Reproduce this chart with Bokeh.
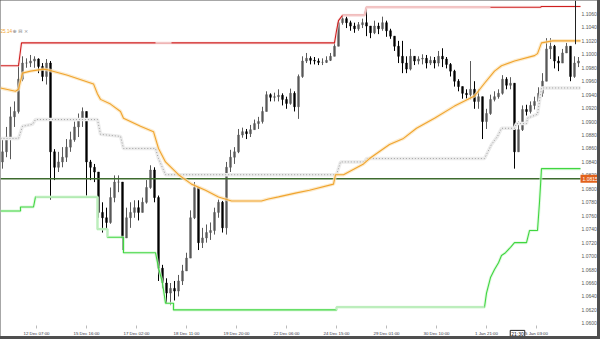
from bokeh.plotting import figure
from bokeh.models import Range1d, FixedTicker, Label, PrintfTickFormatter, ColumnDataSource
from bokeh.layouts import column
from bokeh.embed import file_html
from bokeh.resources import INLINE

# ---------------- data ----------------
first_open = 1.0840
close = [1.0855, 1.0877, 1.0907, 1.0915, 1.0963, 1.0987, 1.0987, 1.0990, 1.0993, 1.0982,
         1.0967, 1.0987, 1.0855, 1.0832, 1.0840, 1.0847, 1.0862, 1.0873, 1.0892, 1.0903,
         1.0915, 1.0840, 1.0832, 1.0825, 1.0765, 1.0757, 1.0750, 1.0787, 1.0810, 1.0810,
         1.0727, 1.0757, 1.0765, 1.0772, 1.0765, 1.0780, 1.0802, 1.0828, 1.0787, 1.0682,
         1.0660, 1.0645, 1.0652, 1.0648, 1.0663, 1.0678, 1.0697, 1.0757, 1.0802, 1.0720,
         1.0727, 1.0735, 1.0738, 1.0765, 1.0780, 1.0742, 1.0832, 1.0847, 1.0855, 1.0880,
         1.0885, 1.0882, 1.0888, 1.0897, 1.0900, 1.0915, 1.0940, 1.0936, 1.0937, 1.0939,
         1.0933, 1.0927, 1.0942, 1.0922, 1.0967, 1.0990, 1.0994, 1.0991, 1.0990, 1.0988,
         1.0988, 1.0991, 1.0997, 1.1012, 1.1047, 1.1053, 1.1047, 1.1042, 1.1038, 1.1044,
         1.1047, 1.1042, 1.1032, 1.1042, 1.1038, 1.1047, 1.1035, 1.1027, 1.1012, 1.0997,
         1.0987, 1.0978, 1.0997, 1.0990, 1.0993, 1.0994, 1.0987, 1.0991, 1.0987, 1.0997,
         1.0993, 1.0985, 1.0975, 1.0960, 1.0952, 1.0942, 1.0940, 1.0948, 1.0930, 1.0937,
         1.0900, 1.0912, 1.0933, 1.0937, 1.0942, 1.0963, 1.0954, 1.0957, 1.0855, 1.0888,
         1.0918, 1.0915, 1.0924, 1.0930, 1.0942, 1.0960, 1.1008, 1.1012, 1.0990, 1.0987,
         1.1002, 1.1012, 1.0967, 1.0987, 1.0990]
high = [1.0874, 1.0892, 1.0922, 1.0930, 1.0987, 1.0997, 1.0994, 1.0999, 1.0997, 1.0994,
        1.0987, 1.0993, 1.0990, 1.0859, 1.0855, 1.0862, 1.0874, 1.0885, 1.0900, 1.0912,
        1.0921, 1.0915, 1.0843, 1.0837, 1.0825, 1.0780, 1.0772, 1.0802, 1.0820, 1.0820,
        1.0810, 1.0772, 1.0780, 1.0783, 1.0783, 1.0787, 1.0813, 1.0835, 1.0832, 1.0790,
        1.0687, 1.0667, 1.0660, 1.0663, 1.0672, 1.0687, 1.0705, 1.0768, 1.0810, 1.0802,
        1.0742, 1.0747, 1.0750, 1.0772, 1.0784, 1.0782, 1.0840, 1.0858, 1.0862, 1.0889,
        1.0891, 1.0889, 1.0895, 1.0903, 1.0907, 1.0922, 1.0945, 1.0942, 1.0943, 1.0948,
        1.0942, 1.0937, 1.0949, 1.0945, 1.0970, 1.0997, 1.1002, 1.0997, 1.0996, 1.0994,
        1.0994, 1.0997, 1.1002, 1.1020, 1.1050, 1.1057, 1.1056, 1.1050, 1.1047, 1.1048,
        1.1053, 1.1069, 1.1042, 1.1050, 1.1047, 1.1056, 1.1050, 1.1038, 1.1027, 1.1020,
        1.1020, 1.0997, 1.1008, 1.0997, 1.0997, 1.1000, 1.0999, 1.0997, 1.0996, 1.1005,
        1.1009, 1.0996, 1.0987, 1.0977, 1.0963, 1.0952, 1.0948, 1.0990, 1.0960, 1.0948,
        1.0937, 1.0919, 1.0940, 1.0945, 1.0948, 1.0969, 1.0966, 1.0966, 1.0957, 1.0900,
        1.0924, 1.0925, 1.0930, 1.0937, 1.0951, 1.0972, 1.1024, 1.1024, 1.1014, 1.0997,
        1.1008, 1.1017, 1.1012, 1.0997, 1.0996]
low = [1.0830, 1.0847, 1.0844, 1.0892, 1.0912, 1.0960, 1.0980, 1.0981, 1.0980, 1.0972,
       1.0960, 1.0955, 1.0784, 1.0813, 1.0825, 1.0832, 1.0840, 1.0855, 1.0870, 1.0877,
       1.0892, 1.0790, 1.0813, 1.0810, 1.0757, 1.0735, 1.0739, 1.0748, 1.0780, 1.0795,
       1.0709, 1.0727, 1.0742, 1.0757, 1.0753, 1.0765, 1.0778, 1.0800, 1.0780, 1.0663,
       1.0652, 1.0630, 1.0627, 1.0634, 1.0640, 1.0657, 1.0678, 1.0697, 1.0755, 1.0709,
       1.0712, 1.0720, 1.0724, 1.0732, 1.0757, 1.0735, 1.0732, 1.0825, 1.0837, 1.0853,
       1.0876, 1.0874, 1.0877, 1.0888, 1.0889, 1.0897, 1.0915, 1.0930, 1.0930, 1.0930,
       1.0924, 1.0919, 1.0925, 1.0915, 1.0904, 1.0965, 1.0987, 1.0985, 1.0985, 1.0984,
       1.0984, 1.0987, 1.0990, 1.0997, 1.1012, 1.1044, 1.1039, 1.1035, 1.1032, 1.1035,
       1.1039, 1.1027, 1.1024, 1.1030, 1.1030, 1.1035, 1.1026, 1.1023, 1.1005, 1.0987,
       1.0972, 1.0972, 1.0976, 1.0984, 1.0985, 1.0985, 1.0979, 1.0984, 1.0979, 1.0982,
       1.0981, 1.0979, 1.0967, 1.0952, 1.0945, 1.0934, 1.0934, 1.0933, 1.0919, 1.0919,
       1.0874, 1.0889, 1.0910, 1.0930, 1.0934, 1.0940, 1.0948, 1.0948, 1.0830, 1.0855,
       1.0886, 1.0909, 1.0912, 1.0918, 1.0930, 1.0937, 1.0960, 1.0993, 1.0979, 1.0975,
       1.0987, 1.1002, 1.0960, 1.0965, 1.0981]

# upper channel (red)
upper_x = [-0.5, 4, 4.75, 38.25, 42.25, 83, 83.5, 84, 85, 90.5, 91, 122, 134.5, 134.75, 144.5]
upper_y = [1.0983, 1.0983, 1.1017, 1.1017, 1.1017, 1.1017, 1.1035, 1.1050, 1.1058, 1.1058,
           1.1070, 1.1070, 1.1070, 1.1071, 1.1071]
upper_faded = [(38.25, 42.25), (85, 122)]

# lower channel (green)
lower_x = [-0.5, 4.5, 4.5, 7.75, 8.25, 23.75, 23.75, 26.25, 26.25, 30.25, 30.25, 38.25, 39,
           40, 40.75, 42.75, 42.75, 83.5, 83.5, 120.5, 121, 122, 123, 124, 124.75, 125.75,
           127, 128, 131, 131.5, 131.75, 133.75, 134.25, 134.75, 144.5]
lower_y = [1.0767, 1.0767, 1.0773, 1.0773, 1.0788, 1.0788, 1.0740, 1.0740, 1.0728, 1.0728,
           1.0705, 1.0705, 1.0683, 1.0660, 1.0630, 1.0630, 1.0620, 1.0620, 1.0624, 1.0624,
           1.0645, 1.0668, 1.0680, 1.0690, 1.0701, 1.0705, 1.0713, 1.0720, 1.0720, 1.0732,
           1.0738, 1.0738, 1.0780, 1.0830, 1.0830]
lower_faded = [(8.25, 26.25), (83.5, 120.5)]

# middle line (grey dotted)
mid_x = [-0.5, 4, 5, 7.5, 8.25, 23.75, 24.5, 29.5, 30.25, 38.25, 39, 40.75, 83.5, 84.5, 90.5,
         91, 120.5, 122.25, 123.75, 124.75, 128, 128.5, 131, 131.25, 133.75, 134.75, 144.5]
mid_y = [1.0875, 1.0875, 1.0893, 1.0896, 1.0903, 1.0903, 1.0881, 1.0878, 1.0860, 1.0860,
         1.0845, 1.0821, 1.0821, 1.0840, 1.0840, 1.0845, 1.0845, 1.0866, 1.0878, 1.0890,
         1.0890, 1.0897, 1.0897, 1.0905, 1.0911, 1.0950, 1.0950]

# moving average (orange)
ma_x = [-0.5, 3.25, 4, 5, 7, 10.25, 11.25, 16.25, 22.75, 23.75, 24.5, 27, 29.5, 30.25, 34.5,
        37.75, 39, 40.75, 44, 47.25, 50.75, 54, 57.25, 64.75, 66.5, 69, 73.5, 76.75, 82.75,
        83.25, 85.25, 90.25, 91.75, 96.75, 100.25, 103.5, 108, 113, 118, 120.5, 123, 124.75,
        128, 133, 133.75, 134.75, 137.5, 144.5]
ma_y = [1.0950, 1.0945, 1.0948, 1.0972, 1.0975, 1.0978, 1.0977, 1.0969, 1.0956, 1.0941,
        1.0933, 1.0926, 1.0915, 1.0905, 1.0893, 1.0885, 1.0860, 1.0840, 1.0821, 1.0807,
        1.0798, 1.0788, 1.0782, 1.0782, 1.0785, 1.0788, 1.0794, 1.0798, 1.0807, 1.0821,
        1.0821, 1.0837, 1.0845, 1.0866, 1.0875, 1.0890, 1.0905, 1.0923, 1.0938, 1.0957,
        1.0975, 1.0983, 1.0990, 1.0998, 1.1001, 1.1017, 1.1020, 1.1020]

level_price = 1.0815
last_bar_edge = 144.5
cursor_bar = 143.25
cursor_top = 1.1080
cursor_bottom = 1.1015
cursor_time_bar = 128.75
cursor_time_label = "21:30"
legend_value = "25.14"

y_ticks = [round(1.0600 + 0.0020 * k, 4) for k in range(24)]
x_tick_pos = [8.5, 21, 33.5, 46, 58.5, 71, 83.5, 96, 108.5, 121, 133.5]
x_tick_labels = ["12 Dec 07:00", "15 Dec 16:00", "17 Dec 02:00", "18 Dec 11:00",
                 "19 Dec 20:00", "22 Dec 06:00", "24 Dec 15:00", "29 Dec 01:00",
                 "30 Dec 10:00", "1 Jan 21:00", "5 Jan 03:00"]
time_axis_price = 1.0597

# ---------------- figure ----------------
FONT = "Liberation Sans"
p = figure(frame_width=597, frame_height=336,
           x_range=Range1d(-0.5, 148.75), y_range=Range1d(1.0576, 1.1080),
           output_backend="svg", toolbar_location=None, y_axis_location="right",
           min_border=0, background_fill_color="white", border_fill_color="white",
           outline_line_color=None)
p.grid.visible = False

n = len(close)
opens = [first_open] + close[:-1]
xs = list(range(n))
up = [c >= o for o, c in zip(opens, close)]
src = ColumnDataSource(dict(
    x=xs, high=high, low=low,
    top=[max(o, c) for o, c in zip(opens, close)],
    bottom=[min(o, c) for o, c in zip(opens, close)],
    color=["#5a5a5a" if u else "#000000" for u in up]))
p.segment("x", "high", "x", "low", source=src, line_color="color", line_width=1)
p.vbar(x="x", width=0.45, top="top", bottom="bottom", source=src,
       fill_color="color", line_color="color", line_width=0.5)


def sub(xv, yv, a, b):
    pts = [(x, y) for x, y in zip(xv, yv) if a <= x <= b]
    return [q[0] for q in pts], [q[1] for q in pts]


# level line
p.line([-0.5, last_bar_edge], [level_price, level_price], line_color="#3d6b2e", line_width=1.4)

# grey middle line
p.line(mid_x, mid_y, line_color="#ececec", line_width=3.5)
p.line(mid_x, mid_y, line_color="#a0a0a0", line_width=1, line_dash="1 2")

# orange MA
p.line(ma_x, ma_y, line_color="#fbe2b8", line_width=3.5, line_alpha=0.7)
p.line(ma_x, ma_y, line_color="#f0a42e", line_width=1.1)

# red upper
p.line(upper_x, upper_y, line_color="#f8dada", line_width=3, line_alpha=0.6)
p.line(upper_x, upper_y, line_color="#cf1e1e", line_width=1.1)
for a, b in upper_faded:
    fx, fy = sub(upper_x, upper_y, a, b)
    p.line(fx, fy, line_color="#f2c6c6", line_width=1.8)

# green lower
p.line(lower_x, lower_y, line_color="#d3f6d3", line_width=3, line_alpha=0.7)
p.line(lower_x, lower_y, line_color="#40d640", line_width=1.1)
for a, b in lower_faded:
    fx, fy = sub(lower_x, lower_y, a, b)
    p.line(fx, fy, line_color="#bdedbd", line_width=1.8)

# cursor line
p.segment([cursor_bar], [cursor_top], [cursor_bar], [cursor_bottom], line_color="#222222", line_width=1)

# axes (drawn inside the frame)
p.yaxis.fixed_location = last_bar_edge
p.yaxis.ticker = FixedTicker(ticks=y_ticks)
p.yaxis.formatter = PrintfTickFormatter(format="%.4f")
p.yaxis.major_label_text_font = FONT
p.yaxis.major_label_text_font_size = "5px"
p.yaxis.major_label_text_color = "#555555"
p.yaxis.major_label_standoff = 1
p.yaxis.major_tick_out = 0
p.yaxis.major_tick_in = 0
p.yaxis.minor_tick_out = 0
p.yaxis.minor_tick_in = 0
p.yaxis.major_tick_line_color = None
p.yaxis.minor_tick_line_color = None
p.yaxis.axis_line_color = None

p.xaxis.fixed_location = time_axis_price
p.xaxis.ticker = FixedTicker(ticks=x_tick_pos)
p.xaxis.major_label_overrides = {float(k): v for k, v in zip(x_tick_pos, x_tick_labels)}
p.xaxis.major_label_text_font = FONT
p.xaxis.major_label_text_font_size = "4.4px"
p.xaxis.major_label_text_color = "#333344"
p.xaxis.major_label_standoff = 3
p.xaxis.major_tick_out = 3
p.xaxis.major_tick_in = 0
p.xaxis.minor_tick_out = 0
p.xaxis.major_tick_line_color = "#bbbbbb"
p.xaxis.minor_tick_line_color = None
p.xaxis.axis_line_color = None

# annotations
p.add_layout(Label(x=last_bar_edge, y=level_price, text=f"{level_price:.4f}", x_offset=0,
                   text_font=FONT, text_font_size="5px", text_color="white",
                   text_baseline="middle", background_fill_color="#e2621b",
                   background_fill_alpha=1.0, padding=2))
p.add_layout(Label(x=-0.5, y=1.1035, text=legend_value, text_font=FONT, text_font_size="4.6px",
                   text_color="#efa22a", text_baseline="middle"))
p.add_layout(Label(x=-0.5, y=1.1035, x_offset=12, text="\u2295 \u229f \u00d7", text_font="DejaVu Sans",
                   text_font_size="5px", text_color="#888888", text_baseline="middle"))
p.add_layout(Label(x=cursor_time_bar, y=time_axis_price, y_offset=-5, text=cursor_time_label,
                   text_font=FONT, text_font_size="5px", text_color="#111111",
                   text_align="center", text_baseline="top", background_fill_color="white",
                   border_line_color="#222222", padding=1))

layout = column(p, width=600, height=339, styles={"background-color": "#4f4f4f"})
open("out.html", "w").write(file_html(layout, INLINE))
